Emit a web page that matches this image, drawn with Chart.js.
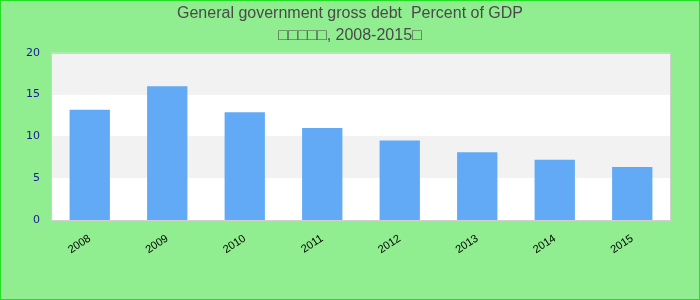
<!DOCTYPE html>
<html>
<head>
<meta charset="utf-8">
<script src="https://cdn.jsdelivr.net/npm/chart.js@4/dist/chart.umd.min.js"></script>
<style>
  html, body { margin: 0; padding: 0; background: #90ee90; }
  #wrap { width: 700px; height: 300px; box-sizing: border-box; border: 1px solid #22e022; position: relative; }
  canvas { display: block; }
</style>
</head>
<body>
<div id="wrap"><canvas id="myChart" width="698" height="298"></canvas></div>
<script>
const years = ['2008', '2009', '2010', '2011', '2012', '2013', '2014', '2015'];
const debtValues = [13.2, 16.0, 12.9, 11.0, 9.5, 8.1, 7.2, 6.35];
const titleLines = ['General government gross debt  Percent of GDP', '\u25A1\u25A1\u25A1\u25A1\u25A1, 2008-2015\u25A1'];
const yTicks = [0, 5, 10, 15, 20];

// alternating horizontal bands behind the bars
const bandPlugin = {
    id: 'bands',
    beforeDatasetsDraw(chart) {
        const { ctx, chartArea, scales } = chart;
        const y = scales.y;
        const w = chartArea.right - chartArea.left;
        ctx.save();
        ctx.fillStyle = '#ffffff';
        ctx.fillRect(chartArea.left, chartArea.top, w, chartArea.bottom - chartArea.top);
        for (let i = 1; i < yTicks.length - 1; i += 2) {
            const top = Math.round(y.getPixelForValue(yTicks[i + 1]));
            const bot = Math.round(y.getPixelForValue(yTicks[i]));
            ctx.fillStyle = '#f2f2f2';
            ctx.fillRect(chartArea.left, top, w, bot - top);
        }
        ctx.strokeStyle = '#d0d0d0';
        ctx.lineWidth = 1;
        ctx.strokeRect(Math.round(chartArea.left) + 0.5, Math.round(chartArea.top) + 0.5,
            Math.round(w) - 1, Math.round(chartArea.bottom - chartArea.top));
        ctx.restore();
    }
};

const ctx = document.getElementById('myChart').getContext('2d');
new Chart(ctx, {
    type: 'bar',
    data: {
        labels: years,
        datasets: [{
            data: debtValues,
            backgroundColor: '#62aaf5',
            borderWidth: 0,
            categoryPercentage: 1.0,
            barPercentage: 0.52
        }]
    },
    options: {
        responsive: false,
        animation: false,
        layout: { padding: 0 },
        plugins: {
            legend: { display: false },
            tooltip: { enabled: false },
            title: {
                display: true,
                text: titleLines,
                color: '#4a4a4a',
                font: { family: 'Liberation Sans, Arial, sans-serif', size: 16, weight: 'normal', lineHeight: 1.4 },
                padding: { top: 1, bottom: 6 }
            }
        },
        scales: {
            x: {
                grid: { display: false, drawTicks: false },
                border: { display: false },
                ticks: {
                    color: '#000',
                    font: { family: 'Liberation Sans, Arial, sans-serif', size: 11 },
                    minRotation: 33,
                    maxRotation: 33,
                    padding: 12
                },
                afterFit: s => { s.height = 79; }
            },
            y: {
                min: 0,
                max: 20,
                grid: { display: false, drawTicks: false },
                border: { display: false },
                ticks: {
                    stepSize: 5,
                    color: '#1a1a8c',
                    font: { family: 'DejaVu Sans, sans-serif', size: 11 },
                    padding: 11
                },
                afterFit: s => { s.width = 50; }
            },
            yRight: {
                position: 'right',
                min: 0,
                max: 20,
                grid: { display: false, drawTicks: false },
                border: { display: false },
                ticks: { display: false },
                afterFit: s => { s.width = 28; }
            }
        }
    },
    plugins: [bandPlugin]
});
</script>
</body>
</html>
